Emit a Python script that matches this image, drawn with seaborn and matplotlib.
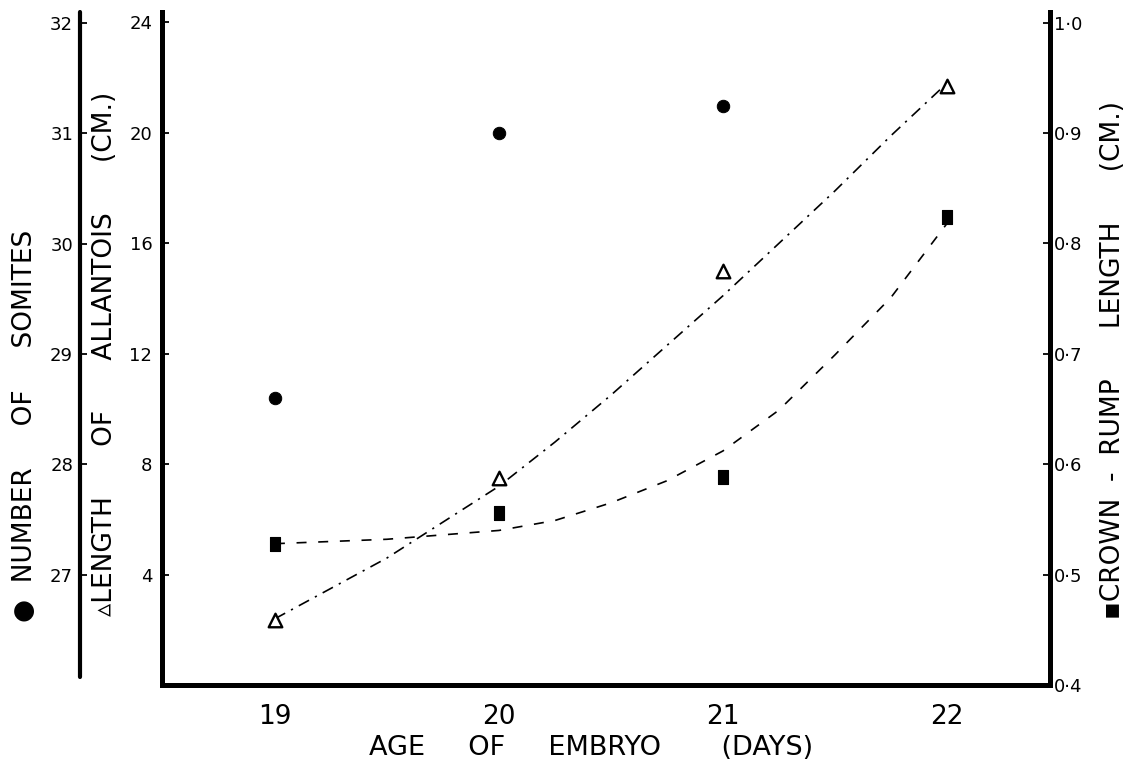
import numpy as np
import pandas as pd
import matplotlib
matplotlib.use("Agg")
import matplotlib.pyplot as plt
import seaborn as sns

# measured points
days = [19, 20, 21, 22]
somite_days = [19, 20, 21]
somites = [28.6, 31.0, 31.25]
allantois = [2.35, 7.5, 15.0, 21.7]
crown_rump = [0.528, 0.556, 0.588, 0.824]

# hand drawn fitted curves
curve_days = [19, 19.25, 19.5, 19.75, 20, 20.25, 20.5, 20.75, 21, 21.25, 21.5, 21.75, 22]
allantois_curve = [2.4, 3.5, 4.6, 5.9, 7.2, 8.8, 10.5, 12.3, 14.1, 16.0, 17.9, 19.9, 21.8]
crown_rump_curve = [0.528, 0.530, 0.532, 0.536, 0.540, 0.549, 0.565, 0.585, 0.612, 0.649, 0.699, 0.751, 0.818]

allantois_ticks = [4, 8, 12, 16, 20, 24]
somite_ticks = [27, 28, 29, 30, 31, 32]
cr_ticks = [0.4, 0.5, 0.6, 0.7, 0.8, 0.9, 1.0]
cr_ticklabels = ["0·4", "0·5", "0·6", "0·7", "0·8", "0·9", "1·0"]

sns.set_style("white")
plt.rcParams['font.family'] = ['DejaVu Sans', 'Noto Sans']

fig = plt.figure(figsize=(11.25, 7.68), dpi=100)
ax = fig.add_axes([162/1125, 83/768, 888/1125, 673/768])
ax_cr = ax.twinx()
ax_som = ax.twinx()

spine_w = 3.6
tick_kw = dict(direction='in', length=5, width=1.3, colors='black')
label_kw = dict(fontsize=19, color='black')

# allantois (inner left axis)
sns.lineplot(x=curve_days, y=allantois_curve, ax=ax, color='black', lw=1.2,
             sort=False, estimator=None)
ax.lines[-1].set_dashes([7, 4, 1.3, 4])
sns.scatterplot(x=days, y=allantois, ax=ax, marker='^', s=95, facecolor='white',
                edgecolor='black', linewidth=1.7, zorder=5)
ax.set_xlim(18.496, 22.46)
ax.set_ylim(0, 24.38)
ax.set_xticks(days)
ax.set_xticklabels([str(d) for d in days], fontsize=19)
ax.set_yticks(allantois_ticks)
ax.set_yticklabels([str(t) for t in allantois_ticks], fontsize=13)
ax.tick_params(axis='y', pad=7, **tick_kw)
ax.tick_params(axis='x', pad=14, **tick_kw)
for side in ['top', 'right']:
    ax.spines[side].set_visible(False)
for side in ['left', 'bottom']:
    ax.spines[side].set_linewidth(spine_w)
    ax.spines[side].set_color('black')
ax.set_xlabel("AGE     OF     EMBRYO       (DAYS)", fontsize=19.5, color='black')
ax.xaxis.set_label_coords(0.483, -0.074)
ax.set_ylabel("\u25b5LENGTH      OF      ALLANTOIS      (CM.)", **label_kw)
ax.yaxis.set_label_coords(-0.0495, 0.492)

# crown-rump (right axis)
sns.lineplot(x=curve_days, y=crown_rump_curve, ax=ax_cr, color='black', lw=1.2,
             sort=False, estimator=None)
ax_cr.lines[-1].set_dashes([6, 7])
rect = [(-0.35, -0.5), (0.35, -0.5), (0.35, 0.5), (-0.35, 0.5), (-0.35, -0.5)]
sns.scatterplot(x=days, y=crown_rump, ax=ax_cr, marker=rect, s=100, color='black',
                edgecolor='black', zorder=5)
ax_cr.set_ylim(0.4, 1.0096)
ax_cr.set_yticks(cr_ticks)
ax_cr.set_yticklabels(cr_ticklabels, fontsize=13)
ax_cr.tick_params(axis='y', pad=3, **tick_kw)
for side in ['top', 'left', 'bottom']:
    ax_cr.spines[side].set_visible(False)
ax_cr.spines['right'].set_linewidth(spine_w)
ax_cr.spines['right'].set_color('black')
ax_cr.set_ylabel("\u25aaCROWN  -  RUMP      LENGTH      (CM.)", **label_kw)
ax_cr.yaxis.set_label_coords(1.056, 0.483)

# somites (outer left axis)
sns.scatterplot(x=somite_days, y=somites, ax=ax_som, marker='o', s=80, color='black',
                edgecolor='black', zorder=5)
ax_som.set_ylim(26, 32.1)
ax_som.yaxis.set_ticks_position('left')
ax_som.yaxis.set_label_position('left')
ax_som.spines['left'].set_position(('axes', -0.0923))
ax_som.spines['left'].set_bounds(26.07, 32.1)
for side in ['top', 'right', 'bottom']:
    ax_som.spines[side].set_visible(False)
ax_som.spines['left'].set_visible(True)
ax_som.spines['left'].set_linewidth(3.0)
ax_som.spines['left'].set_color('black')
ax_som.spines['left'].set_capstyle('round')
ax_som.set_yticks(somite_ticks)
ax_som.set_yticklabels([str(t) for t in somite_ticks], fontsize=13)
ax_som.tick_params(axis='y', pad=5, **tick_kw)
ax_som.set_ylabel("\u25cf  NUMBER     OF     SOMITES", **label_kw)
ax_som.yaxis.set_label_coords(-0.140, 0.385)

fig.savefig("out.png", dpi=100)
